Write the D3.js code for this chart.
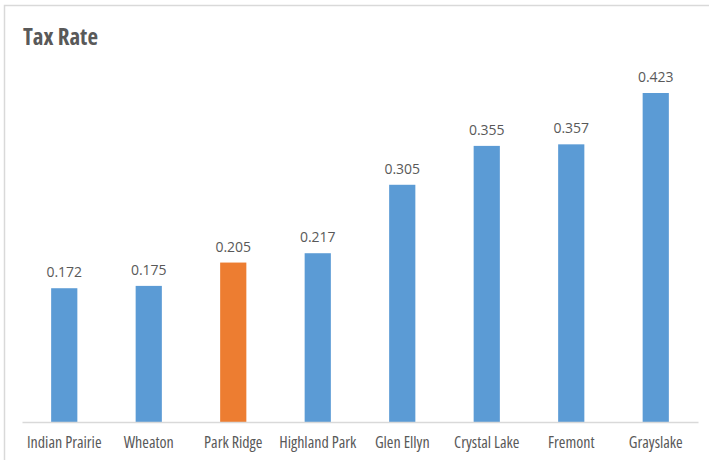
<!DOCTYPE html>
<html>
<head>
<meta charset="utf-8">
<script src="https://cdn.jsdelivr.net/npm/d3@7"></script>
<style>
html,body{margin:0;padding:0;background:#fff;}
svg{display:block;}
</style>
</head>
<body>
<svg id="chart" width="709" height="460"></svg>
<script>
const categories = ["Indian Prairie","Wheaton","Park Ridge","Highland Park","Glen Ellyn","Crystal Lake","Fremont","Grayslake"];
const values = [0.172,0.175,0.205,0.217,0.305,0.355,0.357,0.423];
const highlight = ["Park Ridge"];
const title = "Tax Rate";

const svg = d3.select("#chart");
const W = 709, H = 460;
const font = "'Open Sans',sans-serif";

svg.append("rect").attr("x",4.5).attr("y",5.5).attr("width",W+10).attr("height",H+10)
  .attr("fill","#fff").attr("stroke","#d9d9d9").attr("stroke-width",1.5);

const x = d3.scaleBand().domain(categories).range([22,698]).paddingInner(0.69).paddingOuter(0.345);
const y = d3.scaleLinear().domain([0,0.45]).range([422,72]);

svg.append("text").attr("x",23).attr("y",45).text(title)
  .attr("font-family",font).attr("font-weight","bold")
  .attr("font-size",23).style("font-stretch","75%").attr("fill","#595959");

svg.selectAll("rect.bar").data(values).enter().append("rect").attr("class","bar")
  .attr("x",(d,i)=>x(categories[i])).attr("width",x.bandwidth())
  .attr("y",d=>y(d)).attr("height",d=>y(0)-y(d))
  .attr("fill",(d,i)=>highlight.includes(categories[i])?"#ed7d31":"#5b9bd5");

svg.selectAll("text.val").data(values).enter().append("text").attr("class","val")
  .attr("x",(d,i)=>x(categories[i])+x.bandwidth()/2).attr("y",d=>y(d)-11)
  .attr("text-anchor","middle").attr("font-family",font).attr("font-size",14)
  .attr("fill","#595959").text(d=>d.toFixed(3));

const ax = svg.append("g").attr("transform","translate(0,422)")
  .call(d3.axisBottom(x).tickSize(0).tickPadding(15));
ax.select(".domain").attr("stroke","#d9d9d9").attr("stroke-width",1.5);
ax.selectAll("text").attr("font-family",font).attr("font-size",16)
  .style("font-stretch","75%").attr("fill","#595959");
</script>
</body>
</html>
